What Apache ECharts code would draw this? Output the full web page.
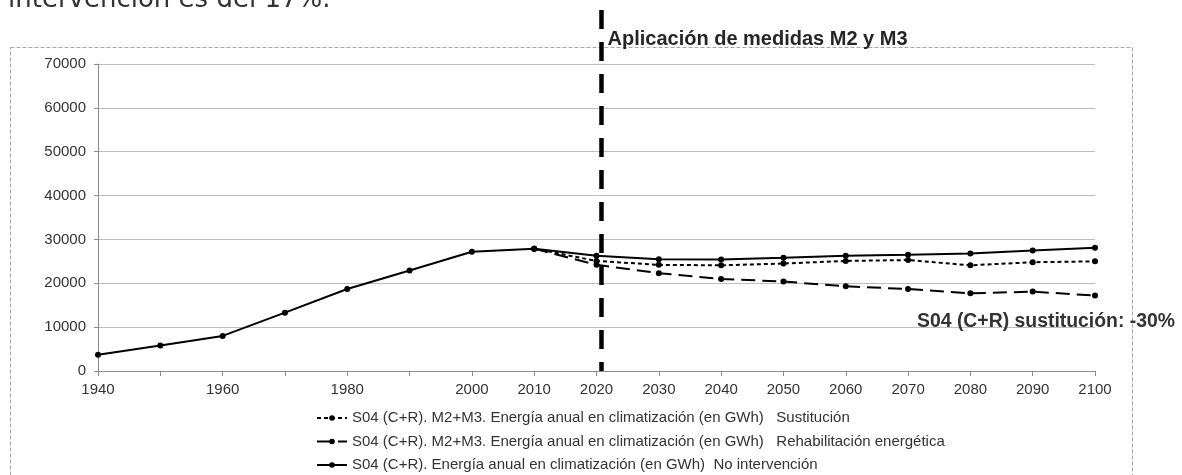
<!DOCTYPE html>
<html>
<head>
<meta charset="utf-8">
<script src="https://cdn.jsdelivr.net/npm/echarts@6/dist/echarts.min.js"></script>
<style>
  html, body { margin: 0; padding: 0; background: #fff; }
  #chart { width: 1182px; height: 475px; }
</style>
</head>
<body>
<div id="chart"></div>
<script>
// Years on the horizontal axis (one point per decade)
const years = [1940, 1950, 1960, 1970, 1980, 1990, 2000, 2010, 2020, 2030, 2040, 2050, 2060, 2070, 2080, 2090, 2100];
// Years that carry a tick label
const labelledYears = [1940, 1960, 1980, 2000, 2010, 2020, 2030, 2040, 2050, 2060, 2070, 2080, 2090, 2100];

// Annual climate-control energy, GWh
const noIntervencion = [3700, 5800, 8000, 13300, 18700, 22900, 27200, 27900, 26300, 25500, 25400, 25800, 26300, 26500, 26800, 27500, 28100];
const sustitucion    = [null, null, null, null, null, null, null, 27900, 25100, 24200, 24100, 24500, 25100, 25300, 24100, 24800, 25000];
const rehabilitacion = [null, null, null, null, null, null, null, 27900, 24200, 22300, 21000, 20400, 19300, 18700, 17700, 18100, 17200];

// Year at which measures M2 and M3 are applied
const measuresYear = 2020.8;

const seriesNames = [
  'S04 (C+R). M2+M3. Energía anual en climatización (en GWh)   Sustitución',
  'S04 (C+R). M2+M3. Energía anual en climatización (en GWh)   Rehabilitación energética',
  'S04 (C+R). Energía anual en climatización (en GWh)  No intervención'
];

const pairs = arr => years.map((y, i) => [y, arr[i]]);

const chart = echarts.init(document.getElementById('chart'), null, { renderer: 'canvas' });

const lineSeries = (name, values, dash, z) => ({
  name,
  type: 'line',
  data: pairs(values),
  connectNulls: false,
  symbol: 'circle',
  symbolSize: 6,
  z,
  itemStyle: { color: '#000' },
  lineStyle: { color: '#000', width: 2, type: dash },
  emphasis: { disabled: true }
});

const baseFont = 'Liberation Sans, Arial, sans-serif';

chart.setOption({
  animation: false,
  backgroundColor: '#fff',
  grid: { left: 98, right: 87, top: 64, bottom: 104, containLabel: false },
  xAxis: {
    type: 'value',
    min: 1940,
    max: 2100,
    interval: 10,
    axisLine: { show: true, lineStyle: { color: '#8c8c8c', width: 1 } },
    axisTick: { show: true, length: 5, lineStyle: { color: '#8c8c8c' } },
    splitLine: { show: false },
    axisLabel: {
      color: '#333',
      fontFamily: baseFont,
      fontSize: 15,
      margin: 11,
      formatter: v => (labelledYears.includes(v) ? String(v) : '')
    }
  },
  yAxis: {
    type: 'value',
    min: 0,
    max: 70000,
    interval: 10000,
    axisLine: { show: true, lineStyle: { color: '#8c8c8c', width: 1 } },
    axisTick: { show: true, length: 4, lineStyle: { color: '#8c8c8c' } },
    splitLine: { show: true, lineStyle: { color: '#bdbdbd', width: 1 } },
    axisLabel: {
      color: '#333',
      fontFamily: baseFont,
      fontSize: 15,
      margin: 12,
      formatter: v => String(v)
    }
  },
  legend: {
    orient: 'vertical',
    left: 316,
    top: 410,
    padding: 0,
    itemGap: 7.5,
    itemWidth: 30,
    itemHeight: 7,
    selectedMode: false,
    data: seriesNames,
    textStyle: {
      color: '#333',
      fontFamily: baseFont,
      fontSize: 15,
      lineHeight: 16
    }
  },
  series: [
    lineSeries(seriesNames[0], sustitucion, [4, 3], 3),
    lineSeries(seriesNames[1], rehabilitacion, [14, 7], 2),
    lineSeries(seriesNames[2], noIntervencion, 'solid', 4)
  ]
});

// Overlay: vertical marker for the measures year, annotations and frame
const xMeasures = chart.convertToPixel({ xAxisIndex: 0 }, measuresYear);
const yBase = chart.convertToPixel({ yAxisIndex: 0 }, 0);

chart.setOption({
  graphic: [
    {
      type: 'rect',
      shape: { x: 10.5, y: 47.5, width: 1122, height: 460 },
      style: { fill: null, stroke: '#a6a6a6', lineWidth: 1, lineDash: [4, 2] },
      silent: true, z: 0
    },
    {
      type: 'text',
      x: 8, y: 13,
      style: {
        text: 'intervención es del 17%.',
        fill: '#333',
        font: '26px "DejaVu Sans", Verdana, sans-serif',
        verticalAlign: 'bottom'
      },
      silent: true
    },
    {
      type: 'line',
      shape: { x1: xMeasures, y1: 10, x2: xMeasures, y2: yBase },
      style: { stroke: '#000', lineWidth: 4.5, lineDash: [19, 13] },
      silent: true, z: 10
    },
    {
      type: 'text',
      x: xMeasures + 6, y: 39,
      style: {
        text: 'Aplicación de medidas M2 y M3',
        fill: '#262626',
        font: 'bold 20px "Liberation Sans", Arial, sans-serif',
        verticalAlign: 'middle'
      },
      silent: true, z: 11
    },
    {
      type: 'text',
      x: 917, y: 322,
      style: {
        text: 'S04 (C+R) sustitución: -30%',
        fill: '#333',
        font: 'bold 19.4px "Liberation Sans", Arial, sans-serif',
        verticalAlign: 'middle'
      },
      silent: true, z: 11
    }
  ]
});
</script>
</body>
</html>
